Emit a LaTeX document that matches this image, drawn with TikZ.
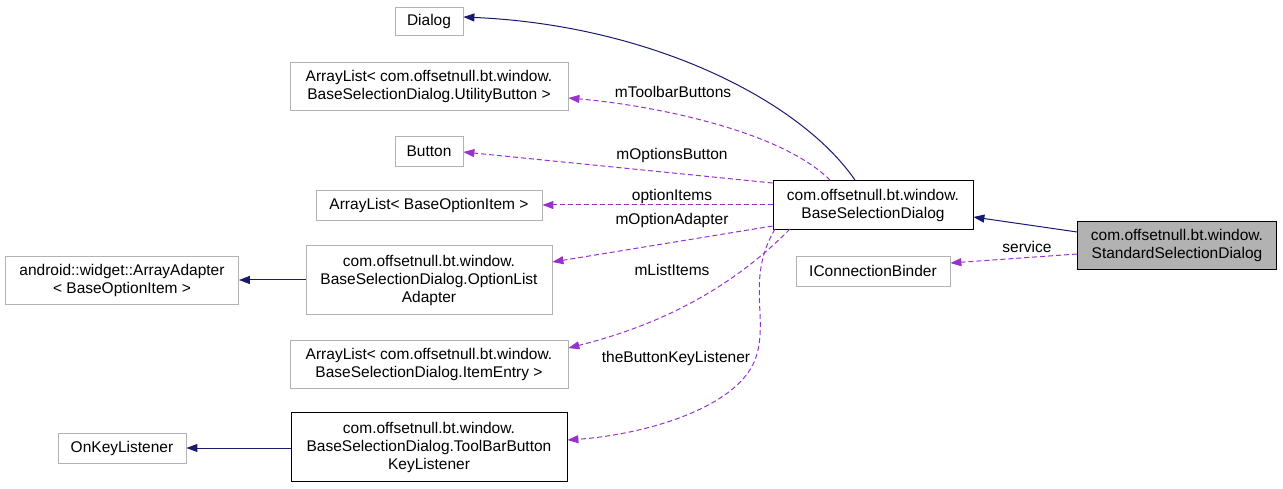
\documentclass[tikz,border=0pt]{standalone}
\usepackage{fontspec}
\setmainfont{Liberation Sans}
\usetikzlibrary{arrows.meta}
\definecolor{navy}{RGB}{25,25,112}
\definecolor{dorchid}{RGB}{153,50,204}
\begin{document}
\begin{tikzpicture}[x=1pt,y=-1pt,
 box/.style={draw=black!30,fill=white,font=\fontsize{15.5}{18}\selectfont,align=center,inner sep=0pt,line width=0.8pt},
 strong/.style={draw=black},
 inh/.style={draw=navy,-{Triangle[length=11pt,width=8pt]},line width=1pt},
 use/.style={draw=dorchid,dash pattern=on 5pt off 3pt,-{Triangle[length=11pt,width=8pt]},line width=1pt},
 lbl/.style={font=\fontsize{15.5}{18}\selectfont,fill=white,inner sep=1pt}]
\useasboundingbox (0,0) rectangle (1283,489);
\node[box,minimum width=68,minimum height=28] (dialog) at (429,21) {Dialog};
\node[box,minimum width=278,minimum height=48] (util) at (429,86) {ArrayList< com.offsetnull.bt.window.\\BaseSelectionDialog.UtilityButton >};
\node[box,minimum width=68,minimum height=30] (button) at (429,151) {Button};
\node[box,minimum width=226,minimum height=30] (opts) at (429,205) {ArrayList< BaseOptionItem >};
\node[box,minimum width=246,minimum height=69] (adapter) at (429,280) {com.offsetnull.bt.window.\\BaseSelectionDialog.OptionList\\Adapter};
\node[box,minimum width=278,minimum height=48] (entry) at (429,364) {ArrayList< com.offsetnull.bt.window.\\BaseSelectionDialog.ItemEntry >};
\node[box,strong,minimum width=276,minimum height=69] (tbkl) at (429,447) {com.offsetnull.bt.window.\\BaseSelectionDialog.ToolBarButton\\KeyListener};
\node[box,minimum width=233,minimum height=48] (aa) at (122,280) {android::widget::ArrayAdapter\\< BaseOptionItem >};
\node[box,minimum width=128,minimum height=30] (okl) at (122,448) {OnKeyListener};
\node[box,strong,minimum width=200,minimum height=49] (base) at (873,205) {com.offsetnull.bt.window.\\BaseSelectionDialog};
\node[box,minimum width=154,minimum height=30] (icb) at (873,271) {IConnectionBinder};
\node[box,strong,fill=black!30,minimum width=199,minimum height=48] (std) at (1177,245) {com.offsetnull.bt.window.\\StandardSelectionDialog};

\draw[inh] (std.west|-0,232) -- (base.east|-0,217);
\draw[use] (std.west|-0,254) -- (icb.east|-0,263);
\node[lbl] at (1027,247) {service};
\draw[inh] ([xshift=-18pt]base.north) .. controls (800,100) and (650,25) .. (dialog.east|-0,17);
\draw[use] ([xshift=-43pt]base.north) .. controls (780,130) and (650,105) .. (util.east|-0,98);
\node[lbl] at (673,92) {mToolbarButtons};
\draw[use] (base.west|-0,183) -- (button.east|-0,152);
\node[lbl] at (672,155) {mOptionsButton};
\draw[use] (base.west) -- (opts.east);
\node[lbl] at (672,196) {optionItems};
\draw[use] (base.west|-0,226) -- (adapter.east|-0,262);
\node[lbl] at (672,220) {mOptionAdapter};
\draw[use] (790,229) .. controls (720,300) and (640,330) .. (entry.east|-0,348);
\node[lbl] at (672,270) {mListItems};
\draw[use] (775,229) .. controls (745,280) and (770,320) .. (755,360) .. controls (735,410) and (640,435) .. (tbkl.east|-0,440);
\node[lbl] at (676,358) {theButtonKeyListener};
\draw[inh] (adapter.west) -- (aa.east);
\draw[inh] (tbkl.west|-0,448) -- (okl.east);
\end{tikzpicture}
\end{document}
